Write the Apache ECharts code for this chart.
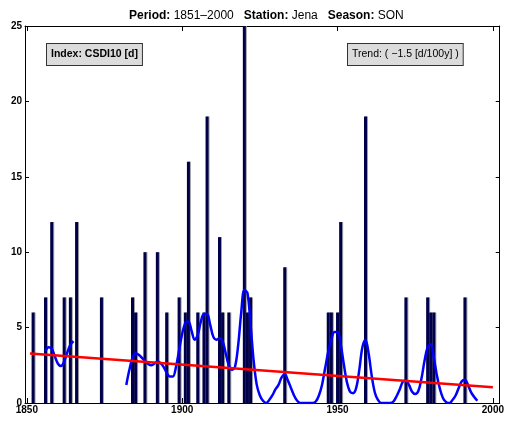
<!DOCTYPE html>
<html lang="en">
<head>
<meta charset="utf-8">
<title>CSDI10 - Jena - SON</title>
<style>
html, body { margin: 0; background: #fff; }
#chart { width: 507px; height: 425px; }
</style>
</head>
<body>
<div id="chart"></div>
<script src="https://cdn.jsdelivr.net/npm/echarts@6/dist/echarts.min.js"></script>
<script>
// yearly index values (only non-zero years are drawn)
var barYears  = [1852, 1856, 1858, 1862, 1864, 1866, 1874, 1884, 1885, 1888, 1892, 1895, 1899, 1901, 1902, 1905, 1907, 1908,
                 1912, 1913, 1915, 1920, 1921, 1922, 1933, 1947, 1948, 1950, 1951, 1959, 1972, 1979, 1980, 1981, 1991];
var barValues = [6, 7, 12, 7, 7, 12, 7, 7, 6, 10, 10, 6, 7, 6, 16, 6, 6, 19,
                 11, 6, 6, 25, 6, 7, 9, 6, 6, 6, 12, 19, 7, 7, 6, 6, 7];

// smoothed curve, two pieces (gap 1866-1881)
var smoothStartA = 1856;
var smoothA = [3.45, 3.7, 3.6, 3.1, 2.6, 2.45, 2.75, 3.35, 3.85, 4.1];
var smoothStartB = 1882;
var smoothB = [1.2, 2.2, 3.0, 3.3, 3.2, 3.0, 2.8, 2.6, 2.5, 2.6,      // 1882-1891
               2.75, 2.65, 2.4, 2.0, 1.75, 1.75, 2.4, 3.5, 4.6, 5.3,  // 1892-1901
               5.4, 4.8, 4.2, 4.5, 5.4, 5.9, 5.9, 5.2, 4.4, 4.2,      // 1902-1911
               4.3, 4.1, 3.3, 2.5, 2.2, 2.4, 3.8, 6.0, 7.5, 7.3,      // 1912-1921
               5.2, 2.8, 1.2, 0.5, 0.15, 0.0, 0.2, 0.5, 0.9, 1.2,     // 1922-1931
               1.7, 1.9, 1.5, 1.0, 0.5, 0.15, 0, 0, 0, 0,             // 1932-1941
               0, 0.1, 0.5, 1.2, 2.3, 3.4, 4.2, 4.7, 4.7, 3.9,        // 1942-1951
               2.6, 1.4, 0.75, 0.65, 1.0, 2.2, 3.7, 4.2, 3.3, 1.8,    // 1952-1961
               0.7, 0.2, 0, 0, 0, 0, 0.1, 0.45, 0.9, 1.4,             // 1962-1971
               1.5, 1.2, 0.75, 0.6, 0.8, 1.6, 2.8, 3.7, 3.9, 3.0,     // 1972-1981
               1.8, 0.9, 0.3, 0.05, 0, 0.2, 0.5, 1.0, 1.45, 1.55,     // 1982-1991
               1.2, 0.7, 0.4, 0.15];                                  // 1992-1995

// linear trend (-1.5 d / 100 y)
var trendYears  = [1851, 2000];
var trendValues = [3.28, 1.05];

var xTicks = [1850, 1900, 1950, 2000];

function pairs(xs, ys) {
  return xs.map(function (x, i) { return [x, ys[i]]; });
}
function run(start, ys) {
  return ys.map(function (v, i) { return [start + i, v]; });
}

var font = 'Liberation Sans';
var chart = echarts.init(document.getElementById('chart'), null, { renderer: 'canvas' });

var blueLine = {
  type: 'line',
  smooth: 0.35,
  showSymbol: false,
  silent: true,
  z: 3,
  lineStyle: { color: '#0000ff', width: 2.5 }
};

chart.setOption({
  animation: false,
  backgroundColor: '#fff',
  title: {
    left: 124,
    top: 5,
    text: '{b|Period:} 1851–2000   {b|Station:} Jena   {b|Season:} SON',
    textStyle: {
      fontFamily: font, fontSize: 12, fontWeight: 'normal', color: '#000',
      rich: { b: { fontFamily: font, fontSize: 12, fontWeight: 'bold', color: '#000' } }
    }
  },
  grid: { left: 25, right: 5, top: 26, bottom: 22 },
  xAxis: [{
    type: 'value',
    position: 'bottom',
    min: 1849.4,
    max: 2002.2,
    axisLine: { onZero: false, lineStyle: { color: '#000', width: 1 } },
    axisTick: { inside: true, length: 5, customValues: xTicks, lineStyle: { color: '#000' } },
    axisLabel: {
      customValues: xTicks, margin: 2, fontFamily: font, fontSize: 10, fontWeight: 'bold', color: '#000',
      formatter: function (v) { return String(v); }
    },
    splitLine: { show: false }
  }, {
    type: 'value',
    position: 'top',
    min: 1849.4,
    max: 2002.2,
    axisLine: { onZero: false, lineStyle: { color: '#000', width: 1 } },
    axisTick: { inside: true, length: 5, customValues: xTicks, lineStyle: { color: '#000' } },
    axisLabel: { show: false },
    splitLine: { show: false }
  }],
  yAxis: [{
    type: 'value',
    position: 'left',
    min: 0,
    max: 25,
    interval: 5,
    axisLine: { show: true, onZero: false, lineStyle: { color: '#000', width: 1 } },
    axisTick: { show: true, inside: true, length: 4, lineStyle: { color: '#000' } },
    axisLabel: { margin: 3, fontFamily: font, fontSize: 10, fontWeight: 'bold', color: '#000' },
    splitLine: { show: false }
  }, {
    type: 'value',
    position: 'right',
    min: 0,
    max: 25,
    interval: 5,
    axisLine: { show: true, onZero: false, lineStyle: { color: '#000', width: 1 } },
    axisTick: { show: true, inside: true, length: 4, lineStyle: { color: '#000' } },
    axisLabel: { show: false },
    splitLine: { show: false }
  }],
  series: [
    {
      name: 'CSDI10',
      type: 'bar',
      barWidth: 3,
      silent: true,
      z: 2,
      itemStyle: {
        color: '#00004a',
        borderWidth: 0,
        shadowColor: '#a0a0a0',
        shadowOffsetX: 1,
        shadowBlur: 0
      },
      data: pairs(barYears, barValues)
    },
    Object.assign({ name: 'smooth A', data: run(smoothStartA, smoothA) }, blueLine),
    Object.assign({ name: 'smooth B', data: run(smoothStartB, smoothB) }, blueLine),
    {
      name: 'trend',
      type: 'line',
      showSymbol: false,
      silent: true,
      z: 4,
      lineStyle: { color: '#ff0000', width: 2.5 },
      data: pairs(trendYears, trendValues)
    }
  ],
  graphic: [{
    type: 'text',
    left: 46,
    top: 43,
    z: 10,
    style: {
      text: 'Index: CSDI10 [d]',
      font: 'bold 10.5px ' + font,
      fill: '#000',
      backgroundColor: '#dcdcdc',
      borderColor: '#333',
      borderWidth: 1,
      padding: [5, 4, 5, 4]
    }
  }, {
    type: 'text',
    left: 347,
    top: 43,
    z: 10,
    style: {
      text: 'Trend: ( \u22121.5 [d/100y] )',
      font: '10.5px ' + font,
      fill: '#000',
      backgroundColor: '#dcdcdc',
      borderColor: '#333',
      borderWidth: 1,
      padding: [5, 4, 5, 4]
    }
  }]
});
</script>
</body>
</html>
